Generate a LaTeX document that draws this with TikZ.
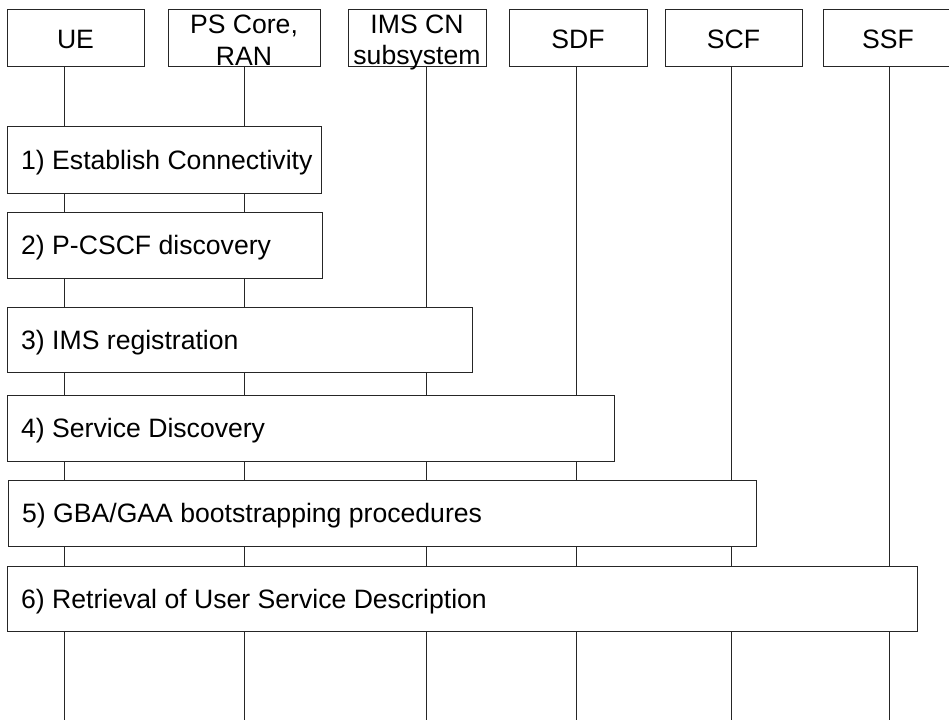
\documentclass[tikz,border=0pt]{standalone}
\usepackage{fontspec}
\setmainfont{Liberation Sans}
\begin{document}
\begin{tikzpicture}[x=1pt,y=-1pt,
  every node/.style={font=\fontsize{26.6pt}{32pt}\selectfont},
  hbox/.style={draw=black!85, line width=1pt, fill=white, rectangle, inner sep=0pt, anchor=north west, minimum height=57pt},
  stepbox/.style={draw=black!85, line width=1pt, fill=white, rectangle, inner sep=0pt, anchor=north west},
  lbl/.style={inner sep=0pt, anchor=base},
  slbl/.style={inner sep=0pt, anchor=base west},
  life/.style={draw=black!85, line width=1pt}]
\useasboundingbox (0,0) rectangle (949,720);
\fill[white] (0,0) rectangle (949,720);
% lifeline coordinates
\coordinate (ueT) at (64,66);   \coordinate (ueB) at (64,720);
\coordinate (psT) at (244.5,66); \coordinate (psB) at (244.5,720);
\coordinate (imsT) at (426,66); \coordinate (imsB) at (426,720);
\coordinate (sdfT) at (576,66); \coordinate (sdfB) at (576,720);
\coordinate (scfT) at (731.5,66); \coordinate (scfB) at (731.5,720);
\coordinate (ssfT) at (889,66); \coordinate (ssfB) at (889,720);
\draw[life] (ueT) -- (ueB);
\draw[life] (psT) -- (psB);
\draw[life] (imsT) -- (imsB);
\draw[life] (sdfT) -- (sdfB);
\draw[life] (scfT) -- (scfB);
\draw[life] (ssfT) -- (ssfB);
% header boxes
\node[hbox, minimum width=137pt] (ue) at (7,9) {};
\node[lbl] (ueL) at (75.5,48.5) {UE};
\node[hbox, minimum width=152pt] (ps) at (168,9) {};
\node[lbl] (psL1) at (244,33) {PS Core,};
\node[lbl] (psL2) at (244,65) {RAN};
\node[hbox, minimum width=138pt] (ims) at (348,9) {};
\node[lbl] (imsL1) at (417,33) {IMS CN};
\node[lbl] (imsL2) at (417,64) {subsystem};
\node[hbox, minimum width=138pt] (sdf) at (509,9) {};
\node[lbl] (sdfL) at (578,48) {SDF};
\node[hbox, minimum width=137pt] (scf) at (665,9) {};
\node[lbl] (scfL) at (733.5,48) {SCF};
\node[hbox, minimum width=130pt] (ssf) at (823,9) {};
\node[lbl] (ssfL) at (888,48) {SSF};
% step boxes
\node[stepbox, minimum width=314pt, minimum height=67pt] (s1) at (7,126) {};
\node[slbl] (s1L) at (21,169.5) {1) Establish Connectivity};
\node[stepbox, minimum width=315pt, minimum height=66pt] (s2) at (7,212) {};
\node[slbl] (s2L) at (21,254.5) {2) P-CSCF discovery};
\node[stepbox, minimum width=465pt, minimum height=65pt] (s3) at (7,307) {};
\node[slbl] (s3L) at (21,349) {3) IMS registration};
\node[stepbox, minimum width=607pt, minimum height=66pt] (s4) at (7,395) {};
\node[slbl] (s4L) at (21,437.5) {4) Service Discovery};
\node[stepbox, minimum width=748pt, minimum height=66pt] (s5) at (8,480) {};
\node[slbl] (s5L) at (22,522.5) {5) GBA/GAA bootstrapping procedures};
\node[stepbox, minimum width=910pt, minimum height=65pt] (s6) at (7,566) {};
\node[slbl] (s6L) at (21,608) {6) Retrieval of User Service Description};
\end{tikzpicture}
\end{document}
